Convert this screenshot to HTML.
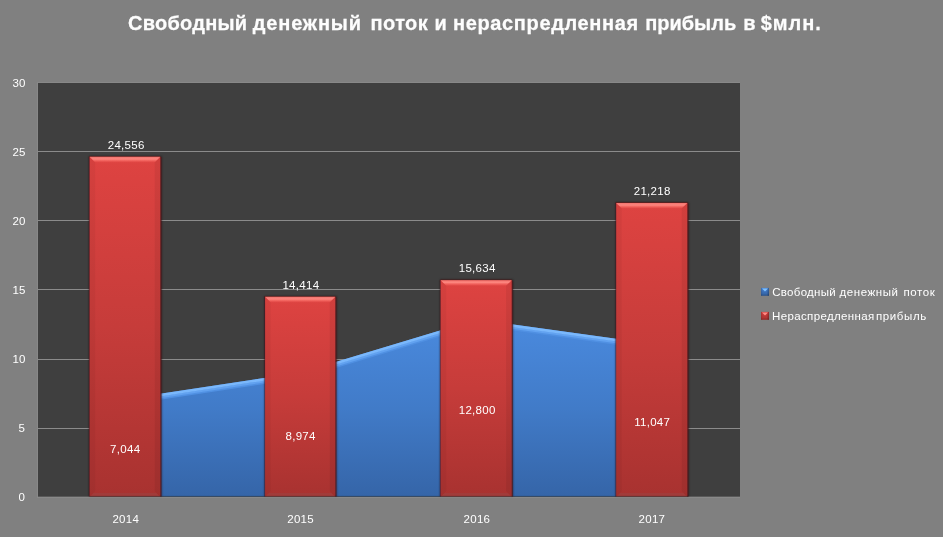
<!DOCTYPE html>
<html lang="ru"><head><meta charset="utf-8"><title>Свободный денежный поток</title>
<style>
html,body{margin:0;padding:0;background:#808080;}
body{width:943px;height:537px;overflow:hidden;position:relative;font-family:"Liberation Sans",sans-serif;}
svg{position:absolute;left:0;top:0;display:block}
.tx{will-change:transform}
text{font-family:"Liberation Sans",sans-serif;fill:#fff;white-space:pre}
.t{font-size:20.8px;font-weight:bold;fill:#fdfdfd;stroke:#fdfdfd;stroke-width:0.25px}
.l{font-size:11.5px;letter-spacing:0.3px;fill:#fff}
</style></head><body>
<svg width="943" height="537" viewBox="0 0 943 537">
<defs>
<linearGradient id="gr" x1="0" y1="0" x2="0" y2="1"><stop offset="0" stop-color="#de4341"/><stop offset="0.5" stop-color="#c63c3a"/><stop offset="1" stop-color="#a83230"/></linearGradient>
<linearGradient id="gb" gradientUnits="userSpaceOnUse" x1="0" y1="320.1" x2="0" y2="496.8"><stop offset="0" stop-color="#4a8ade"/><stop offset="0.5" stop-color="#417bc8"/><stop offset="1" stop-color="#3565a8"/></linearGradient>
<filter id="sh" x="-10%" y="-5%" width="120%" height="110%"><feGaussianBlur stdDeviation="1.1"/></filter>
<clipPath id="cp"><rect x="38.0" y="83.0" width="702.0" height="414.4"/></clipPath>
</defs>
<rect width="943" height="537" fill="#808080"/>
<rect x="37.0" y="82.0" width="703.0" height="415.8" fill="#888888"/>
<rect x="38.0" y="83.0" width="702.0" height="413.8" fill="#3f3f3f"/>

<rect x="38.0" y="151" width="702.0" height="1" fill="#8b8b8b"/>
<rect x="38.0" y="220" width="702.0" height="1" fill="#8b8b8b"/>
<rect x="38.0" y="289" width="702.0" height="1" fill="#8b8b8b"/>
<rect x="38.0" y="359" width="702.0" height="1" fill="#8b8b8b"/>
<rect x="38.0" y="428" width="702.0" height="1" fill="#8b8b8b"/>
<g clip-path="url(#cp)">
<polygon points="125.5,496.8 125.5,399.1 301.0,372.4 476.5,319.5 652.0,343.7 652.0,496.8" fill="url(#gb)"/>
<polyline points="125.5,404.1 301.0,377.4 476.5,324.5 652.0,348.7" fill="none" stroke="#5090e2" stroke-width="2.0"/>
<polyline points="125.5,402.5 301.0,375.8 476.5,322.9 652.0,347.1" fill="none" stroke="#62a2f0" stroke-width="2.2"/>
<polyline points="125.5,400.4 301.0,373.7 476.5,320.8 652.0,345.0" fill="none" stroke="#7ab8fc" stroke-width="2.6"/>
<rect x="89.2" y="156.3" width="72.3" height="341.0" fill="#200808" opacity="0.65" filter="url(#sh)"/>
<rect x="159.8" y="157.1" width="1.7" height="340.0" fill="#561a1e" opacity="0.8"/>
<rect x="88.9" y="156.2" width="71.7" height="2" fill="#5a1616" opacity="0.7"/>
<rect x="88.9" y="156.8" width="1.2" height="340.0" fill="#4a1626" opacity="0.6"/>
<rect x="89.6" y="156.8" width="70.7" height="340.0" fill="url(#gr)"/>
<linearGradient id="bt0" gradientUnits="userSpaceOnUse" x1="0" y1="156.8" x2="0" y2="162.4"><stop offset="0" stop-color="#ff9088" stop-opacity="0.6"/><stop offset="0.4" stop-color="#ff8c84" stop-opacity="0.92"/><stop offset="0.7" stop-color="#fa6e68" stop-opacity="0.7"/><stop offset="1" stop-color="#f0605a" stop-opacity="0.15"/></linearGradient>
<polygon points="89.6,156.8 160.3,156.8 154.7,162.4 95.2,162.4" fill="url(#bt0)"/>
<polygon points="89.6,156.8 95.2,162.4 95.2,491.2 89.6,496.8" fill="#000" opacity="0.04"/>
<polygon points="160.3,156.8 154.7,162.4 154.7,491.2 160.3,496.8" fill="#000" opacity="0.06"/>
<polygon points="89.6,496.8 160.3,496.8 156.5,493.0 93.4,493.0" fill="#8a5858" opacity="0.25"/>
<rect x="264.7" y="296.3" width="71.8" height="201.0" fill="#200808" opacity="0.65" filter="url(#sh)"/>
<rect x="334.8" y="297.1" width="1.7" height="200.0" fill="#561a1e" opacity="0.8"/>
<rect x="264.4" y="296.2" width="71.2" height="2" fill="#5a1616" opacity="0.7"/>
<rect x="264.4" y="296.8" width="1.2" height="200.0" fill="#4a1626" opacity="0.6"/>
<rect x="265.1" y="296.8" width="70.2" height="200.0" fill="url(#gr)"/>
<linearGradient id="bt1" gradientUnits="userSpaceOnUse" x1="0" y1="296.8" x2="0" y2="302.4"><stop offset="0" stop-color="#ff9088" stop-opacity="0.6"/><stop offset="0.4" stop-color="#ff8c84" stop-opacity="0.92"/><stop offset="0.7" stop-color="#fa6e68" stop-opacity="0.7"/><stop offset="1" stop-color="#f0605a" stop-opacity="0.15"/></linearGradient>
<polygon points="265.1,296.8 335.3,296.8 329.7,302.4 270.7,302.4" fill="url(#bt1)"/>
<polygon points="265.1,296.8 270.7,302.4 270.7,491.2 265.1,496.8" fill="#000" opacity="0.04"/>
<polygon points="335.3,296.8 329.7,302.4 329.7,491.2 335.3,496.8" fill="#000" opacity="0.06"/>
<polygon points="265.1,496.8 335.3,496.8 331.5,493.0 268.9,493.0" fill="#8a5858" opacity="0.25"/>
<rect x="440.2" y="279.7" width="72.7" height="217.6" fill="#200808" opacity="0.65" filter="url(#sh)"/>
<rect x="511.2" y="280.5" width="1.7" height="216.6" fill="#561a1e" opacity="0.8"/>
<rect x="439.9" y="279.6" width="72.1" height="2" fill="#5a1616" opacity="0.7"/>
<rect x="439.9" y="280.2" width="1.2" height="216.6" fill="#4a1626" opacity="0.6"/>
<rect x="440.6" y="280.2" width="71.1" height="216.6" fill="url(#gr)"/>
<linearGradient id="bt2" gradientUnits="userSpaceOnUse" x1="0" y1="280.2" x2="0" y2="285.8"><stop offset="0" stop-color="#ff9088" stop-opacity="0.6"/><stop offset="0.4" stop-color="#ff8c84" stop-opacity="0.92"/><stop offset="0.7" stop-color="#fa6e68" stop-opacity="0.7"/><stop offset="1" stop-color="#f0605a" stop-opacity="0.15"/></linearGradient>
<polygon points="440.6,280.2 511.7,280.2 506.1,285.8 446.2,285.8" fill="url(#bt2)"/>
<polygon points="440.6,280.2 446.2,285.8 446.2,491.2 440.6,496.8" fill="#000" opacity="0.04"/>
<polygon points="511.7,280.2 506.1,285.8 506.1,491.2 511.7,496.8" fill="#000" opacity="0.06"/>
<polygon points="440.6,496.8 511.7,496.8 507.9,493.0 444.4,493.0" fill="#8a5858" opacity="0.25"/>
<rect x="615.8" y="202.4" width="72.7" height="294.9" fill="#200808" opacity="0.65" filter="url(#sh)"/>
<rect x="686.8" y="203.2" width="1.7" height="293.9" fill="#561a1e" opacity="0.8"/>
<rect x="615.5" y="202.3" width="72.1" height="2" fill="#5a1616" opacity="0.7"/>
<rect x="615.5" y="202.9" width="1.2" height="293.9" fill="#4a1626" opacity="0.6"/>
<rect x="616.2" y="202.9" width="71.1" height="293.9" fill="url(#gr)"/>
<linearGradient id="bt3" gradientUnits="userSpaceOnUse" x1="0" y1="202.9" x2="0" y2="208.5"><stop offset="0" stop-color="#ff9088" stop-opacity="0.6"/><stop offset="0.4" stop-color="#ff8c84" stop-opacity="0.92"/><stop offset="0.7" stop-color="#fa6e68" stop-opacity="0.7"/><stop offset="1" stop-color="#f0605a" stop-opacity="0.15"/></linearGradient>
<polygon points="616.2,202.9 687.3,202.9 681.7,208.5 621.8,208.5" fill="url(#bt3)"/>
<polygon points="616.2,202.9 621.8,208.5 621.8,491.2 616.2,496.8" fill="#000" opacity="0.04"/>
<polygon points="687.3,202.9 681.7,208.5 681.7,491.2 687.3,496.8" fill="#000" opacity="0.06"/>
<polygon points="616.2,496.8 687.3,496.8 683.5,493.0 620.0,493.0" fill="#8a5858" opacity="0.25"/>
<rect x="89.6" y="495.9" width="598.7" height="1.2" fill="#000" opacity="0.38"/>
</g>
<rect x="37.0" y="496.8" width="703.0" height="1" fill="#8a8a8a"/>
</svg><svg class="tx" width="943" height="537" viewBox="0 0 943 537">
<text class="l" x="126.2" y="149.0" text-anchor="middle">24,556</text>
<text class="l" x="125.2" y="452.9" text-anchor="middle">7,044</text>
<text class="l" x="125.8" y="523.2" text-anchor="middle">2014</text>
<text class="l" x="300.9" y="289.0" text-anchor="middle">14,414</text>
<text class="l" x="300.6" y="439.6" text-anchor="middle">8,974</text>
<text class="l" x="300.6" y="523.2" text-anchor="middle">2015</text>
<text class="l" x="477.2" y="272.4" text-anchor="middle">15,634</text>
<text class="l" x="477.2" y="414.1" text-anchor="middle">12,800</text>
<text class="l" x="476.9" y="523.2" text-anchor="middle">2016</text>
<text class="l" x="652.2" y="195.1" text-anchor="middle">21,218</text>
<text class="l" x="652.2" y="426.2" text-anchor="middle">11,047</text>
<text class="l" x="651.9" y="523.2" text-anchor="middle">2017</text>
<text class="l" x="25.80" y="86.6" text-anchor="end">30</text>
<text class="l" x="25.80" y="155.6" text-anchor="end">25</text>
<text class="l" x="25.80" y="224.6" text-anchor="end">20</text>
<text class="l" x="25.80" y="293.6" text-anchor="end">15</text>
<text class="l" x="25.80" y="362.7" text-anchor="end">10</text>
<text class="l" x="25.15" y="431.7" text-anchor="end">5</text>
<text class="l" x="25.15" y="500.7" text-anchor="end">0</text>
<text class="t" y="30.3" transform="scale(0.962,1)"><tspan x="133.06" style="letter-spacing:0.26px">Свободный</tspan> <tspan x="262.68" style="letter-spacing:0.89px">денежный</tspan> <tspan x="385.24" style="letter-spacing:0.42px">поток</tspan> <tspan x="451.66" style="letter-spacing:0.00px">и</tspan> <tspan x="470.89" style="letter-spacing:0.67px">нераспредленная</tspan> <tspan x="670.69" style="letter-spacing:0.00px">прибыль</tspan> <tspan x="772.56" style="letter-spacing:0.00px">в</tspan> <tspan x="790.75" style="letter-spacing:1.04px">$млн.</tspan></text>
<linearGradient id="lb" x1="0" y1="0" x2="0" y2="1"><stop offset="0" stop-color="#4580d0"/><stop offset="1" stop-color="#33609f"/></linearGradient>
<linearGradient id="lr" x1="0" y1="0" x2="0" y2="1"><stop offset="0" stop-color="#cf3e3c"/><stop offset="1" stop-color="#a83230"/></linearGradient>
<rect x="761" y="287.9" width="8" height="7.9" fill="url(#lb)"/>
<rect x="761" y="287.9" width="1.2" height="7.9" fill="#000" opacity="0.10"/><rect x="767.6" y="287.9" width="1.4" height="7.9" fill="#000" opacity="0.22"/><rect x="761" y="294.5" width="8" height="1.3" fill="#000" opacity="0.12"/>
<polygon points="762,288.4 768,288.4 765,291.5" fill="#80c2ff"/>
<rect x="761" y="311.9" width="8" height="7.9" fill="url(#lr)"/>
<rect x="761" y="311.9" width="1.2" height="7.9" fill="#000" opacity="0.10"/><rect x="767.6" y="311.9" width="1.4" height="7.9" fill="#000" opacity="0.22"/><rect x="761" y="318.5" width="8" height="1.3" fill="#000" opacity="0.12"/>
<polygon points="762,312.4 768,312.4 765,315.5" fill="#ff8a84"/>
<text class="l" y="296.0"><tspan x="772.2" style="letter-spacing:0.3px">Свободный</tspan> <tspan x="839.4" style="letter-spacing:0.6px">денежный</tspan> <tspan x="903.6" style="letter-spacing:0.55px">поток</tspan></text>
<text class="l" y="320.0"><tspan x="772.0" style="letter-spacing:0.36px">Нераспредленная</tspan> <tspan x="876.0" style="letter-spacing:0.6px">прибыль</tspan></text>
</svg></body></html>
